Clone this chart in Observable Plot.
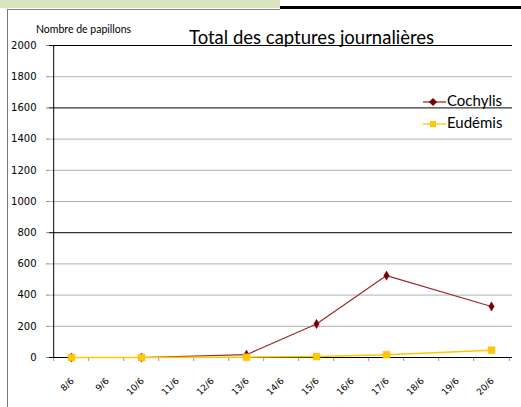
<!DOCTYPE html>
<html>
<head>
<meta charset="utf-8">
<script src="https://cdn.jsdelivr.net/npm/d3@7"></script>
<script src="https://cdn.jsdelivr.net/npm/@observablehq/plot@0.6"></script>
<style>
  html, body { margin: 0; padding: 0; background: #fff; }
  #wrap { position: relative; width: 521px; height: 407px; overflow: hidden; background: #fff; }
  #wrap svg { position: absolute; left: 0; top: 0; }
  .deco { position: absolute; }
  .txt { position: absolute; white-space: nowrap; color: #000; }
</style>
</head>
<body>
<div id="wrap">
  <div class="deco" style="left:0;top:0;width:280px;height:8px;background:#d7e4bd;"></div>
  <div class="deco" style="left:280px;top:6px;width:241px;height:3px;background:#000;"></div>
  <div class="deco" style="left:7px;top:9px;width:273px;height:1px;background:#888;"></div>
  <div class="deco" style="left:7px;top:9px;width:1px;height:398px;background:#777;"></div>
</div>
<script>
const days = ["8/6","9/6","10/6","11/6","12/6","13/6","14/6","15/6","16/6","17/6","18/6","19/6","20/6"];
const sampleDays = ["8/6","10/6","13/6","15/6","17/6","20/6"];
const cochylis = [0, 0, 18, 215, 525, 327];
const eudemis = [0, 0, 2, 6, 18, 47];
const yTicks = [0, 200, 400, 600, 800, 1000, 1200, 1400, 1600, 1800, 2000];
const darkGrid = [800, 1600, 2000];
const seriesNames = ["Cochylis", "Eudémis"];
const seriesColors = ["#9b2a2a", "#ffc800"];
const markerColors = ["#7a0000", "#ffc800"];

const W = 521, H = 407, ML = 49, MR = 9, MT = 45, MB = 50;
const step = (W - ML - MR) / days.length;

const dataC = sampleDays.map((d, i) => ({day: d, value: cochylis[i]}));
const dataE = sampleDays.map((d, i) => ({day: d, value: eudemis[i]}));

const chart = Plot.plot({
  width: W, height: H,
  marginLeft: ML, marginRight: MR, marginTop: MT, marginBottom: MB,
  style: {fontFamily: "'DejaVu Sans', sans-serif", background: "transparent", overflow: "visible"},
  x: {type: "point", domain: days, padding: 0.5},
  y: {domain: [0, 2000]},
  marks: [
    Plot.ruleY(yTicks.filter(v => v > 0 && !darkGrid.includes(v)), {stroke: "#b0b0b0", strokeWidth: 1}),
    Plot.ruleY(darkGrid, {stroke: "#000", strokeWidth: 1}),
    Plot.axisY({ticks: yTicks, tickFormat: d => String(d), tickSize: 3, tickPadding: 10, fontSize: 10, label: null, stroke: "#888", color: "#000"}),
    Plot.axisX({tickRotate: -45, tickSize: 0, tickPadding: 22, dx: 1, fontSize: 9, label: null, color: "#000"}),
    Plot.ruleX(days, {x: d => d, y1: 0, y2: 0, insetBottom: -4, dx: -step / 2, stroke: "#999"}),
    Plot.ruleX([days[days.length - 1]], {y1: 0, y2: 0, insetBottom: -4, dx: step / 2, stroke: "#999"}),
    Plot.ruleX([days[0]], {y1: 0, y2: 2000, dx: -step / 2, stroke: "#000"}),
    Plot.ruleY([0], {stroke: "#000", strokeWidth: 1.2}),
    Plot.line(dataC, {x: "day", y: "value", stroke: seriesColors[0], strokeWidth: 1.2}),
    Plot.dot(dataC, {x: "day", y: "value", symbol: "diamond", r: 2.8, fill: markerColors[0], stroke: markerColors[0], strokeWidth: 0.5}),
    Plot.line(dataE, {x: "day", y: "value", stroke: seriesColors[1], strokeWidth: 1.5}),
    Plot.dot(dataE, {x: "day", y: "value", symbol: "square", r: 3.8, fill: markerColors[1], stroke: "#f5b400", strokeWidth: 0.5})
  ]
});
const wrap = document.getElementById("wrap");
wrap.insertBefore(chart, wrap.firstChild.nextSibling);

function addText(txt, x, y, size, family) {
  const el = document.createElement("div");
  el.className = "txt";
  el.textContent = txt;
  el.style.left = x + "px";
  el.style.top = y + "px";
  el.style.fontSize = size + "px";
  el.style.fontFamily = family;
  el.style.lineHeight = "1";
  wrap.appendChild(el);
  return el;
}
addText("Nombre de papillons", 36, 24, 10.5, "Lato, sans-serif");
addText("Total des captures journalières", 189, 28, 18.5, "Lato, sans-serif");

// legend
const legendY = [102, 124];
seriesNames.forEach((name, i) => {
  const svgNS = "http://www.w3.org/2000/svg";
  const s = document.createElementNS(svgNS, "svg");
  s.setAttribute("width", 26); s.setAttribute("height", 12);
  s.style.position = "absolute";
  s.style.left = "421px";
  s.style.top = (legendY[i] - 6) + "px";
  const ln = document.createElementNS(svgNS, "line");
  ln.setAttribute("x1", 2); ln.setAttribute("x2", 25); ln.setAttribute("y1", 6); ln.setAttribute("y2", 6);
  ln.setAttribute("stroke", seriesColors[i]); ln.setAttribute("stroke-width", 1.3);
  s.appendChild(ln);
  if (i === 0) {
    const p = document.createElementNS(svgNS, "path");
    p.setAttribute("d", "M12,2 L16,6 L12,10 L8,6 Z");
    p.setAttribute("fill", markerColors[0]);
    s.appendChild(p);
  } else {
    const r = document.createElementNS(svgNS, "rect");
    r.setAttribute("x", 9); r.setAttribute("y", 3); r.setAttribute("width", 6); r.setAttribute("height", 6);
    r.setAttribute("fill", markerColors[1]);
    s.appendChild(r);
  }
  wrap.appendChild(s);
  addText(name, 447, legendY[i] - 9, 15, "Lato, sans-serif");
});
</script>
</body>
</html>
